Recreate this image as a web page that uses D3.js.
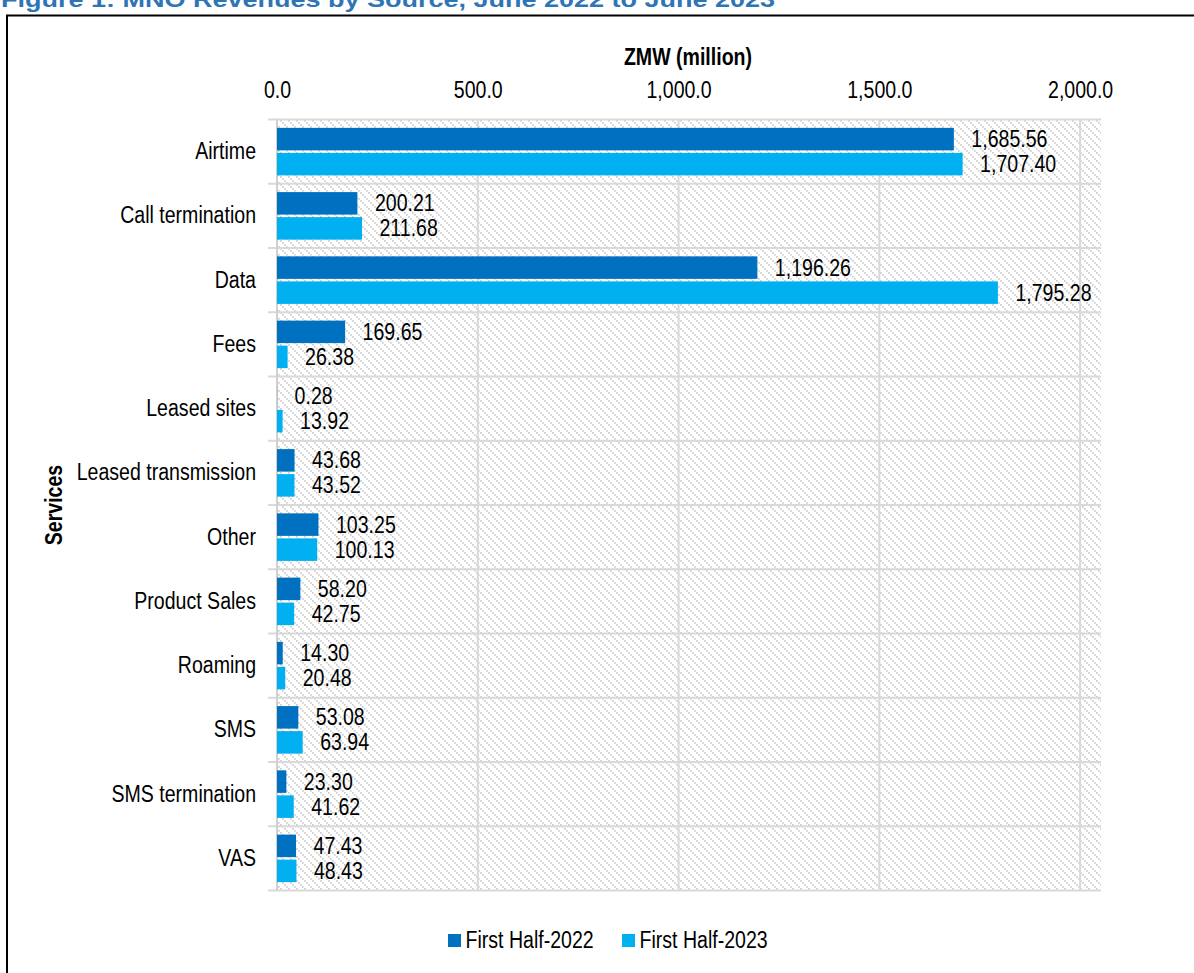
<!DOCTYPE html>
<html>
<head>
<meta charset="utf-8">
<script src="https://cdn.jsdelivr.net/npm/d3@7/dist/d3.min.js"></script>
<style>
  html, body { margin: 0; padding: 0; background: #fff; }
  svg { display: block; }
  text { font-family: "Liberation Sans", Arial, sans-serif; fill: #000; }
</style>
</head>
<body>
<svg id="chart" width="1194" height="973"></svg>
<script>
// Revenue by service, ZMW million
const categories = ["Airtime", "Call termination", "Data", "Fees", "Leased sites",
  "Leased transmission", "Other", "Product Sales", "Roaming", "SMS", "SMS termination", "VAS"];
const seriesNames = ["First Half-2022", "First Half-2023"];
const firstHalf2022 = [1685.56, 200.21, 1196.26, 169.65, 0.28, 43.68, 103.25, 58.20, 14.30, 53.08, 23.30, 47.43];
const firstHalf2023 = [1707.40, 211.68, 1795.28, 26.38, 13.92, 43.52, 100.13, 42.75, 20.48, 63.94, 41.62, 48.43];
const xTicks = [0, 500, 1000, 1500, 2000];
const colors = ["#0070C0", "#00B0F0"];

const rows = categories.map((c, i) => ({ category: c, values: [firstHalf2022[i], firstHalf2023[i]] }));

const svg = d3.select("#chart");
const plotLeft = 277, plotRight = 1101, plotTop = 119.5, plotBottom = 890.5;

// Condensed look: squeeze regular glyphs horizontally
const NARROW = 0.85;
function narrow(sel) {
  sel.each(function () {
    const w = this.getComputedTextLength();
    d3.select(this).attr("textLength", w * NARROW).attr("lengthAdjust", "spacingAndGlyphs");
  });
}

// Title (caption above the frame)
svg.append("text")
  .attr("x", 1).attr("y", 7)
  .attr("textLength", 774).attr("lengthAdjust", "spacingAndGlyphs")
  .style("font-weight", "bold").style("font-size", "22px").style("fill", "#2E75B6")
  .text("Figure 1: MNO Revenues by Source, June 2022 to June 2023");

// Frame
svg.append("rect")
  .attr("x", 7).attr("y", 15.5).attr("width", 1200).attr("height", 1000)
  .attr("fill", "none").attr("stroke", "#000").attr("stroke-width", 2);

// Hatched plot background
const defs = svg.append("defs");
const pat = defs.append("pattern").attr("id", "hatch")
  .attr("patternUnits", "userSpaceOnUse").attr("width", 8).attr("height", 8);
pat.append("rect").attr("width", 8).attr("height", 8).attr("fill", "#fff");
[0, 2, 4, 6].forEach(d => {
  pat.append("rect").attr("x", d).attr("y", d).attr("width", 1.7).attr("height", 1.7).attr("fill", "#cccccc");
});

const x = d3.scaleLinear().domain([0, 2052]).range([plotLeft, plotRight]);
const y = d3.scaleBand().domain(categories).range([plotTop, plotBottom]);
const ySub = d3.scaleBand().domain([0, 1]).range([0, y.bandwidth()]).paddingInner(0.1).paddingOuter(0.334);

svg.append("rect")
  .attr("x", plotLeft).attr("y", plotTop).attr("width", plotRight - plotLeft).attr("height", plotBottom - plotTop)
  .attr("fill", "url(#hatch)");

// Vertical gridlines
svg.append("g")
  .selectAll("line").data(xTicks.slice(1)).join("line")
  .attr("x1", d => x(d)).attr("x2", d => x(d))
  .attr("y1", plotTop).attr("y2", plotBottom)
  .attr("stroke", "#d9d9d9").attr("stroke-width", 2);

// Horizontal gridlines at category boundaries, with ticks left of the axis
const bounds = categories.map(c => y(c)).concat([plotBottom]);
svg.append("g")
  .selectAll("line").data(bounds).join("line")
  .attr("x1", plotLeft - 9).attr("x2", plotRight)
  .attr("y1", d => d).attr("y2", d => d)
  .attr("stroke", "#d9d9d9").attr("stroke-width", 2);

// Category axis line
svg.append("line")
  .attr("x1", plotLeft).attr("x2", plotLeft).attr("y1", plotTop).attr("y2", plotBottom)
  .attr("stroke", "#d0d0d0").attr("stroke-width", 2);

// Value axis on top
const xAxis = d3.axisTop(x).tickValues(xTicks).tickSize(0).tickPadding(0).tickFormat(d3.format(",.1f"));
const gx = svg.append("g").attr("transform", "translate(0,98)").call(xAxis);
gx.select(".domain").remove();
gx.selectAll("text").attr("dy", 0).style("font-size", "23px")
  .style("font-family", "'Liberation Sans', Arial, sans-serif").style("fill", "#000")
  .call(narrow);

// Category labels
const yAxis = d3.axisLeft(y).tickSize(0).tickPadding(0);
const gy = svg.append("g").attr("transform", "translate(256,0)").call(yAxis);
gy.select(".domain").remove();
gy.selectAll("text").style("font-size", "23px")
  .style("font-family", "'Liberation Sans', Arial, sans-serif").style("fill", "#000")
  .call(narrow);

// Bars and value labels
const groups = svg.append("g").selectAll("g").data(rows).join("g")
  .attr("transform", d => `translate(0,${y(d.category)})`);

groups.selectAll("rect").data(d => d.values).join("rect")
  .attr("x", x(0))
  .attr("y", (d, i) => ySub(i))
  .attr("width", d => x(d) - x(0))
  .attr("height", ySub.bandwidth())
  .attr("fill", (d, i) => colors[i]);

groups.selectAll("text.val").data(d => d.values).join("text")
  .attr("class", "val")
  .attr("x", d => x(d) + 17.5)
  .attr("y", (d, i) => ySub(i) + ySub.bandwidth() / 2)
  .attr("dy", "0.35em")
  .style("font-size", "23px")
  .text(d => d3.format(",.2f")(d))
  .call(narrow);

// Axis titles
svg.append("text")
  .attr("x", 688).attr("y", 65).attr("text-anchor", "middle")
  .style("font-size", "23px").style("font-weight", "bold")
  .text("ZMW (million)")
  .call(narrow);

svg.append("text")
  .attr("transform", "translate(62,505) rotate(-90)")
  .attr("text-anchor", "middle")
  .style("font-size", "23px").style("font-weight", "bold")
  .text("Services")
  .call(narrow);

// Legend
const legend = svg.append("g").selectAll("g").data(seriesNames).join("g")
  .attr("transform", (d, i) => `translate(${[448, 622][i]},934)`);
legend.append("rect").attr("width", 13).attr("height", 13).attr("fill", (d, i) => colors[i]);
legend.append("text").attr("x", 17.5).attr("y", 13.5)
  .style("font-size", "23px").text(d => d)
  .call(narrow);
</script>
</body>
</html>
